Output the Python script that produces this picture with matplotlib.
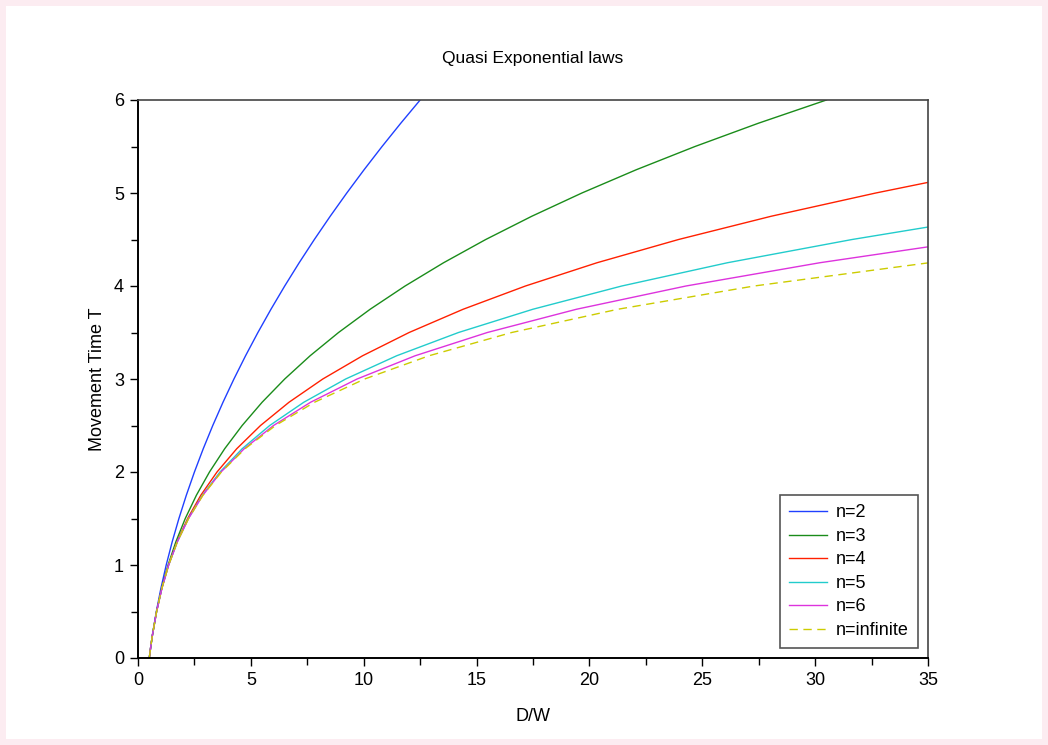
import matplotlib.pyplot as plt
from matplotlib.patches import Rectangle

plt.rcParams['font.family'] = ['Liberation Sans', 'DejaVu Sans']

# values (x = D/W, y = T)
y_n2 = [0, 0.125, 0.25, 0.5, 0.75, 1, 1.25, 1.5, 1.75, 2, 2.25, 2.5, 2.75, 3, 3.25, 3.5, 3.75, 4, 4.25,
        4.5, 4.75, 5, 5.25, 5.5, 5.75, 6]
x_n2 = [0.5, 0.5664, 0.6406, 0.8125, 1.0156, 1.25, 1.5156, 1.8125, 2.1406, 2.5, 2.8906, 3.3125, 3.7656,
        4.25, 4.7656, 5.3125, 5.8906, 6.5, 7.1406, 7.8125, 8.5156, 9.25, 10.0156, 10.8125, 11.6406, 12.5]
y_n3 = [0, 0.125, 0.25, 0.5, 0.75, 1, 1.25, 1.5, 1.75, 2, 2.25, 2.5, 2.75, 3, 3.25, 3.5, 3.75, 4, 4.25,
        4.5, 4.75, 5, 5.25, 5.5, 5.75, 6]
x_n3 = [0.5, 0.5666, 0.6419, 0.8229, 1.0508, 1.3333, 1.6784, 2.0938, 2.5872, 3.1667, 3.8398, 4.6146,
        5.4987, 6.5, 7.6263, 8.8854, 10.2852, 11.8333, 13.5378, 15.4063, 17.4466, 19.6667, 22.0742,
        24.677, 27.4831, 30.5]
y_n4 = [0, 0.125, 0.25, 0.5, 0.75, 1, 1.25, 1.5, 1.75, 2, 2.25, 2.5, 2.75, 3, 3.25, 3.5, 3.75, 4, 4.25,
        4.5, 4.75, 5, 5.114]
x_n4 = [0.5, 0.5666, 0.642, 0.8242, 1.0574, 1.3542, 1.7292, 2.1992, 2.7826, 3.5, 4.3738, 5.4284, 6.6902,
        8.1875, 9.9506, 12.0117, 14.405, 17.1667, 20.3347, 23.9492, 28.0522, 32.6875, 35]
y_n5 = [0, 0.125, 0.25, 0.5, 0.75, 1, 1.25, 1.5, 1.75, 2, 2.25, 2.5, 2.75, 3, 3.25, 3.5, 3.75, 4, 4.25,
        4.5, 4.634]
x_n5 = [0.5, 0.5666, 0.642, 0.8244, 1.0584, 1.3583, 1.742, 2.2309, 2.851, 3.6333, 4.6141, 5.8353, 7.3455,
        9.2, 11.4614, 14.2001, 17.4949, 21.4333, 26.1121, 31.6379, 35]
y_n6 = [0, 0.125, 0.25, 0.5, 0.75, 1, 1.25, 1.5, 1.75, 2, 2.25, 2.5, 2.75, 3, 3.25, 3.5, 3.75, 4, 4.25,
        4.421]
x_n6 = [0.5, 0.5666, 0.642, 0.8244, 1.0585, 1.359, 1.7446, 2.2388, 2.871, 3.6778, 4.7042, 6.0048, 7.6459,
        9.7063, 12.2797, 15.4767, 19.4261, 24.2778, 30.2045, 35]
y_inf = [0, 0.125, 0.25, 0.5, 0.75, 1, 1.25, 1.5, 1.75, 2, 2.25, 2.5, 2.75, 3, 3.25, 3.5, 3.75, 4, 4.2485]
x_inf = [0.5, 0.5666, 0.642, 0.8244, 1.0585, 1.3591, 1.7452, 2.2408, 2.8773, 3.6945, 4.7439, 6.0912,
         7.8213, 10.0428, 12.8952, 16.5577, 21.2605, 27.299, 35]

fig = plt.figure(figsize=(10.48, 7.45), dpi=100)
fig.patch.set_facecolor('#fcecf1')
fig.patches.append(Rectangle((6/1048, 6/745), 1036/1048, 733/745, transform=fig.transFigure,
                             facecolor='white', edgecolor='none', zorder=-10))

ax = fig.add_axes([138/1048, 1 - 658/745, 790/1048, 558/745])
ax.plot(x_n2, y_n2, color='#2040ff', lw=1, label='n=2')
ax.plot(x_n3, y_n3, color='#1a8c1a', lw=1, label='n=3')
ax.plot(x_n4, y_n4, color='#ff2000', lw=1, label='n=4')
ax.plot(x_n5, y_n5, color='#22cccc', lw=1, label='n=5')
ax.plot(x_n6, y_n6, color='#dd33dd', lw=1, label='n=6')
ax.plot(x_inf, y_inf, color='#cccc00', lw=1, ls=(0, (6, 4)), label='n=infinite')

ax.set_xlim(0, 35)
ax.set_ylim(0, 6)
ax.set_xticks(range(0, 36, 5))
ax.set_xticks([i + 2.5 for i in range(0, 35, 5)], minor=True)
ax.set_yticks(range(0, 7))
ax.set_yticks([i + 0.5 for i in range(0, 6)], minor=True)
ax.tick_params(which='major', length=6, width=1, labelsize=13, pad=4)
ax.tick_params(which='minor', length=5, width=1)
ax.tick_params(axis='x', pad=4)
for s in ['left', 'bottom']:
    ax.spines[s].set_linewidth(1.4)
for s in ['top', 'right']:
    ax.spines[s].set_linewidth(1.2)
    ax.spines[s].set_color('#444444')

ax.set_xlabel('D/W', fontsize=13, labelpad=14)
ax.set_ylabel('Movement Time T', fontsize=13, labelpad=6)
ax.set_title('Quasi Exponential laws', fontsize=12.5, pad=27)

leg = ax.legend(loc='lower right', bbox_to_anchor=(0.987, 0.018), borderaxespad=0, fontsize=13,
                fancybox=False, framealpha=1, edgecolor='#555555',
                handlelength=2.1, handletextpad=0.5, labelspacing=0.36, borderpad=0.5)
leg.get_frame().set_linewidth(1.2)

fig.savefig('out.png', dpi=100, facecolor=fig.get_facecolor())
